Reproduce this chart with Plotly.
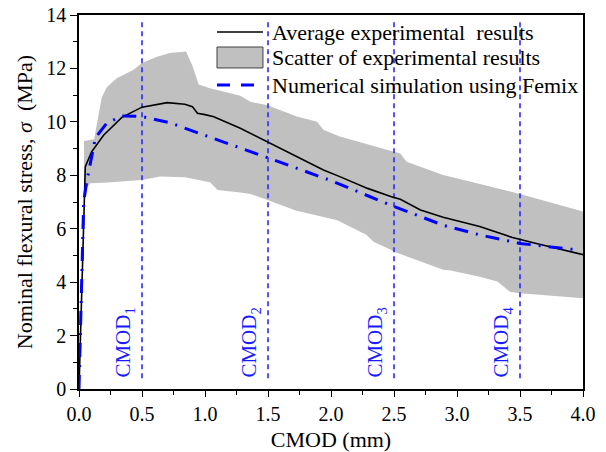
import plotly.graph_objects as go

# Average experimental curve (CMOD in mm, stress in MPa)
avg_cmod = [0.0, 0.05, 0.10, 0.195, 0.34, 0.50, 0.70, 0.84, 0.90, 0.94, 1.00, 1.07,
            1.28, 1.49, 1.73, 1.94, 2.07, 2.29, 2.48, 2.55, 2.71, 2.89, 3.18, 3.44,
            3.63, 4.00]
avg_stress = [0.0, 8.32, 8.88, 9.50, 10.17, 10.55, 10.72, 10.66, 10.57, 10.32, 10.27,
              10.19, 9.76, 9.26, 8.70, 8.20, 7.95, 7.51, 7.20, 7.10, 6.70, 6.43, 6.08,
              5.67, 5.45, 5.03]

# Upper and lower envelope of the experimental scatter
upper_cmod = [0.04, 0.12, 0.18, 0.22, 0.30, 0.43, 0.50, 0.62, 0.72, 0.85, 0.90, 0.95,
              1.04, 1.28, 1.36, 1.49, 1.73, 1.89, 1.94, 2.07, 2.50, 2.55, 2.60, 2.89,
              3.11, 3.50, 4.00]
upper_stress = [9.28, 9.35, 10.90, 11.30, 11.63, 11.94, 12.20, 12.44, 12.58, 12.63,
                12.10, 11.40, 11.26, 10.98, 10.75, 10.63, 10.20, 10.00, 9.70, 9.45,
                8.88, 8.82, 8.51, 8.01, 7.76, 7.30, 6.64]
lower_cmod = [0.04, 0.09, 0.20, 0.50, 0.645, 0.84, 0.91, 1.04, 1.10, 1.28, 1.36, 1.49,
              1.72, 2.05, 2.28, 2.34, 2.48, 2.50, 2.89, 2.95, 3.18, 3.32, 3.42, 3.50,
              4.00]
lower_stress = [7.40, 7.70, 7.72, 7.82, 7.95, 7.93, 7.85, 7.74, 7.45, 7.36, 7.30, 7.08,
                6.68, 6.32, 5.77, 5.50, 5.20, 5.14, 4.46, 4.44, 4.20, 4.02, 3.64, 3.58,
                3.40]

# Femix numerical simulation
sim_cmod = [0.0, 0.037, 0.063, 0.13, 0.22, 0.34, 0.50, 0.72, 0.99, 1.33, 1.49, 2.00,
            2.48, 2.89, 3.18, 3.50, 3.93]
sim_stress = [0.0, 7.00, 7.80, 9.40, 9.95, 10.22, 10.20, 9.97, 9.51, 8.95, 8.67, 7.80,
              6.87, 6.13, 5.77, 5.45, 5.22]

# Reference CMOD values marked by vertical lines
cmod_marks = [0.5, 1.5, 2.5, 3.5]
cmod_labels = ["CMOD<sub>1</sub>", "CMOD<sub>2</sub>", "CMOD<sub>3</sub>", "CMOD<sub>4</sub>"]
mark_range = [0.4, 13.8]

x_ticks = [0.0, 0.5, 1.0, 1.5, 2.0, 2.5, 3.0, 3.5, 4.0]
y_ticks = [0, 2, 4, 6, 8, 10, 12, 14]

legend_names = ["Average experimental\u00a0 results",
                "Scatter of experimental results",
                "Numerical simulation using Femix"]

SERIF = "Liberation Serif"
BLUE = "#0000ff"
BAND = "#c0c0c0"
SIM_DASH = "14px,8px,2px,8px"

fig = go.Figure()

band_x = upper_cmod + lower_cmod[::-1]
band_y = upper_stress + lower_stress[::-1]
fig.add_trace(go.Scatter(
    x=band_x, y=band_y, mode="lines", fill="toself",
    fillcolor=BAND, line=dict(width=0, color=BAND),
    name=legend_names[1], showlegend=False, hoverinfo="skip",
))

for xm in cmod_marks:
    fig.add_trace(go.Scatter(
        x=[xm, xm], y=mark_range, mode="lines", showlegend=False,
        line=dict(color="#2a2aff", width=1.6, dash="5px,4px"), hoverinfo="skip",
    ))

fig.add_trace(go.Scatter(
    x=avg_cmod, y=avg_stress, mode="lines",
    line=dict(color="black", width=1.6),
    name=legend_names[0], showlegend=False,
))

fig.add_trace(go.Scatter(
    x=sim_cmod, y=sim_stress, mode="lines",
    line=dict(color=BLUE, width=3, dash=SIM_DASH),
    name=legend_names[2], showlegend=False,
))

for xm, lab in zip(cmod_marks, cmod_labels):
    fig.add_annotation(
        x=xm - 0.14, y=1.75, text=lab, textangle=-90, showarrow=False,
        xanchor="center", yanchor="middle",
        font=dict(family=SERIF, size=21, color="#1a1aff"),
    )

# Key drawn in paper coordinates: sample glyphs on the left, labels to their right
key_x0, key_x1, key_text_x = 0.2738, 0.365, 0.379
key_rows = [0.9545, 0.8864, 0.8128]
fig.add_shape(type="line", xref="paper", yref="paper",
              x0=key_x0, x1=key_x1, y0=key_rows[0], y1=key_rows[0],
              line=dict(color="black", width=1.6))
fig.add_shape(type="rect", xref="paper", yref="paper",
              x0=key_x0, x1=key_x1, y0=key_rows[1] - 0.028, y1=key_rows[1] + 0.028,
              fillcolor=BAND, line=dict(color="#404040", width=1))
fig.add_shape(type="line", xref="paper", yref="paper",
              x0=key_x0, x1=key_x1, y0=key_rows[2], y1=key_rows[2],
              line=dict(color=BLUE, width=3, dash="13px,11px"))
for name, yr in zip(legend_names, key_rows):
    fig.add_annotation(
        xref="paper", yref="paper", x=key_text_x, y=yr, text=name,
        showarrow=False, xanchor="left", yanchor="middle",
        font=dict(family=SERIF, size=22, color="black"),
    )

fig.update_layout(
    width=606, height=452,
    margin=dict(l=79, r=23, t=15, b=63, autoexpand=False),
    paper_bgcolor="white", plot_bgcolor="white",
    font=dict(family=SERIF, size=20, color="black"),
    showlegend=False,
    xaxis=dict(
        range=[0, 4], tickvals=x_ticks, tickformat=".1f", automargin=False,
        ticks="outside", ticklen=6, tickwidth=1.3, tickcolor="black",
        minor=dict(dtick=0.25, ticks="outside", ticklen=4, tickwidth=1.2,
                   tickcolor="black", showgrid=False),
        showline=True, linecolor="black", linewidth=1.5, mirror=True,
        showgrid=False, zeroline=False,
        title=dict(text="CMOD (mm)", font=dict(family=SERIF, size=22), standoff=8),
    ),
    yaxis=dict(
        range=[0, 14], tickvals=y_ticks, automargin=False,
        ticks="outside", ticklen=7, tickwidth=1.3, tickcolor="black",
        minor=dict(dtick=1, ticks="outside", ticklen=4, tickwidth=1.2,
                   tickcolor="black", showgrid=False),
        showline=True, linecolor="black", linewidth=1.5, mirror=True,
        showgrid=False, zeroline=False,
        title=dict(text="Nominal flexural stress, <i>\u03c3</i>\u00a0 (MPa)",
                   font=dict(family=SERIF, size=22), standoff=8),
    ),
)

fig.write_html("out.html")
